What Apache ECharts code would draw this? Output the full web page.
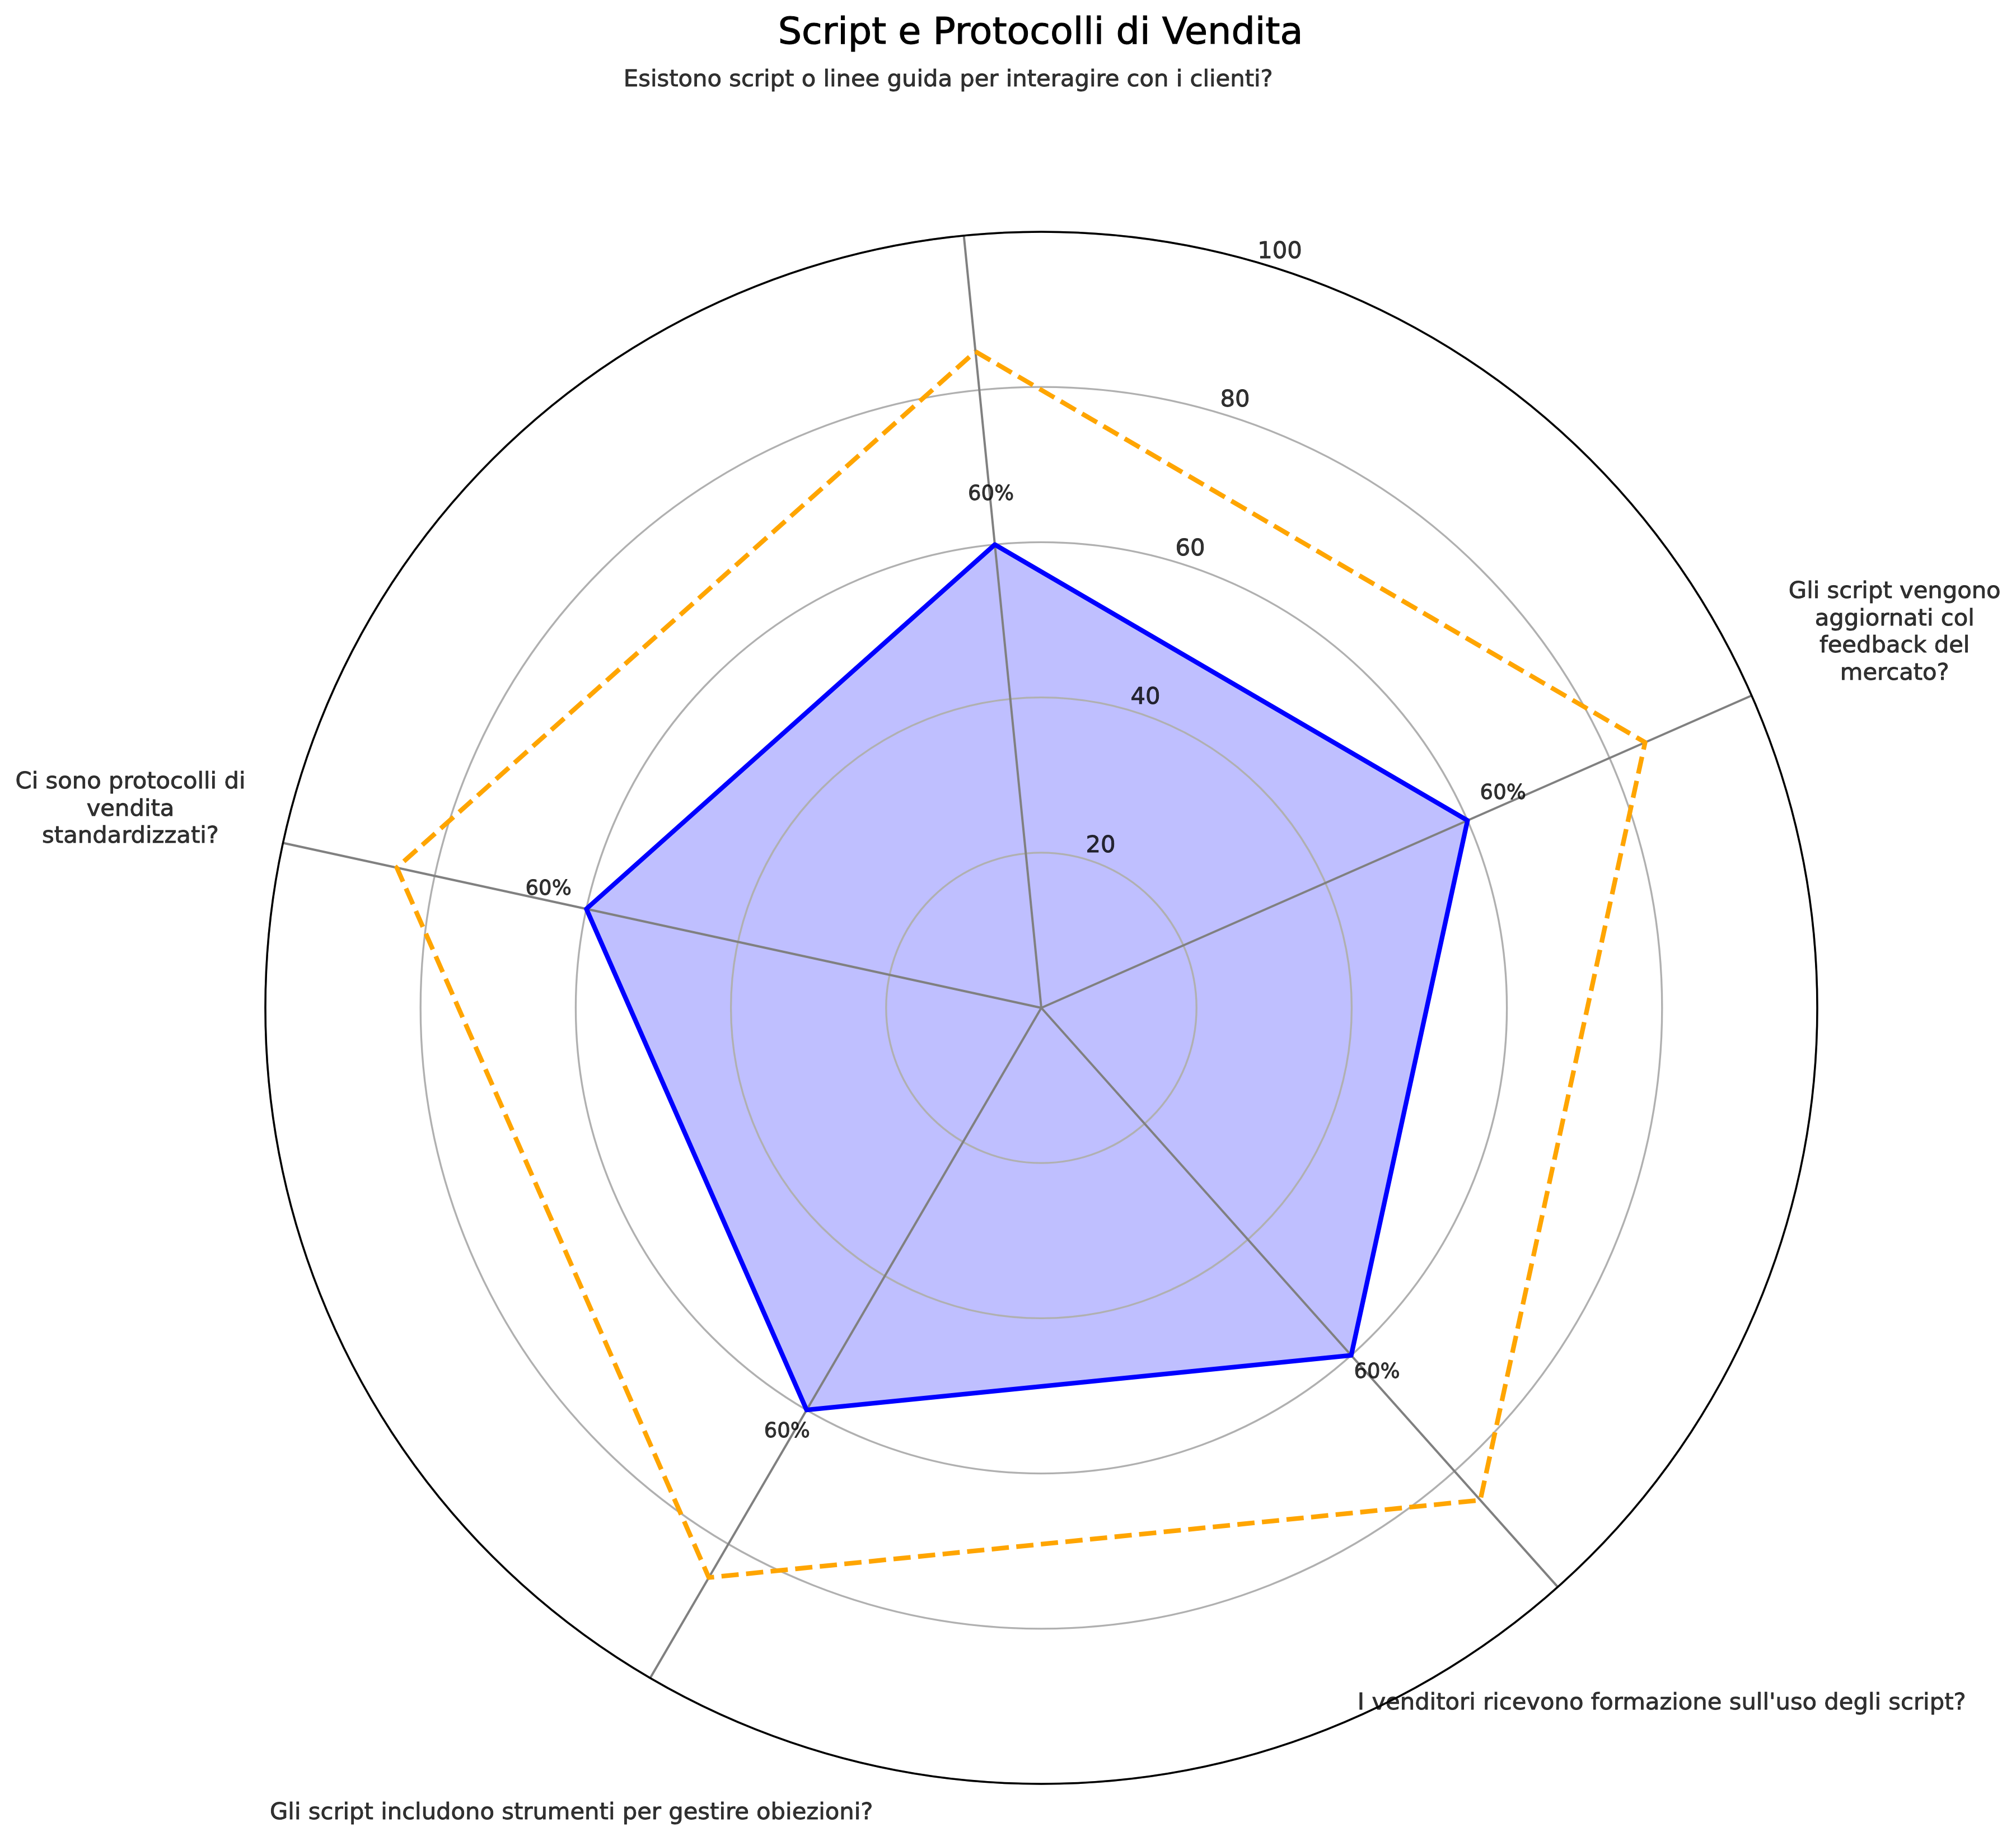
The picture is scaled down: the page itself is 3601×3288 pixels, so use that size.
<!DOCTYPE html>
<html>
<head>
<meta charset="utf-8">
<script src="https://cdn.jsdelivr.net/npm/echarts@6/dist/echarts.min.js"></script>
<style>
html,body{margin:0;padding:0;background:#ffffff;}
#chart{width:3601px;height:3288px;}
</style>
</head>
<body>
<div id="chart"></div>
<script>
// ---- data ----
const chartTitle = 'Script e Protocolli di Vendita';
const categories = [
  'Esistono script o linee guida per interagire con i clienti?',
  'Gli script vengono\naggiornati col\nfeedback del\nmercato?',
  "I venditori ricevono formazione sull'uso degli script?",
  'Gli script includono strumenti per gestire obiezioni?',
  'Ci sono protocolli di\nvendita\nstandardizzati?'
];
const currentValues = [60, 60, 60, 60, 60];
const targetValues = [85, 85, 85, 85, 85];
const radiusTicks = [20, 40, 60, 80, 100];

// ---- layout / style ----
const FONT = 'DejaVu Sans';
const n = categories.length;
const step = 360 / n;
const angleOf = i => i * step;
const closed = vals => vals.map((v, i) => [v, angleOf(i)]).concat([[vals[0], 360]]);
const START = 90 + 0.1 * 180 / Math.PI; // theta offset
const RLABEL_POS = 22.5;
const CENTER = [1860, 1800];

const chart = echarts.init(document.getElementById('chart'), null, {renderer: 'canvas'});

const hiddenAngle = {
  type: 'value', min: 0, max: 360, startAngle: START, clockwise: true,
  axisLine: {show: false}, axisTick: {show: false}, axisLabel: {show: false}, splitLine: {show: false}
};
const hiddenRadius = {
  type: 'value', min: 0, max: 100,
  axisLine: {show: false}, axisTick: {show: false}, axisLabel: {show: false}, splitLine: {show: false}
};

const labelBase = {
  show: true, position: 'inside', color: '#000000', fontFamily: FONT,
  textBorderColor: '#000000', textBorderWidth: 0.9, textShadowBlur: 0
};

const option = {
  backgroundColor: '#ffffff',
  animation: false,
  title: {
    text: chartTitle,
    left: 1858.5,
    top: 60.2,
    padding: 0,
    textAlign: 'center',
    textVerticalAlign: 'middle',
    textStyle: {fontFamily: FONT, fontSize: 66.7, fontWeight: 'normal', color: '#000000', lineHeight: 67,
      textBorderColor: '#000000', textBorderWidth: 1.1}
  },
  polar: [
    {center: CENTER, radius: 1386},
    {center: CENTER, radius: 1665}
  ],
  angleAxis: [
    {
      polarIndex: 0, type: 'value', min: 0, max: 360, interval: step,
      startAngle: START, clockwise: true, z: 1,
      axisLine: {show: true, lineStyle: {color: '#000000', width: 3.5}},
      axisTick: {show: false}, axisLabel: {show: false},
      splitLine: {show: true, lineStyle: {color: '#808080', width: 4}}
    },
    Object.assign({polarIndex: 1}, hiddenAngle)
  ],
  radiusAxis: [
    {
      polarIndex: 0, type: 'value', min: 0, max: 100, interval: 20, z: 0,
      axisLine: {show: false}, axisTick: {show: false}, axisLabel: {show: false},
      splitLine: {show: true, lineStyle: {color: '#b0b0b0', width: 3.33}}
    },
    Object.assign({polarIndex: 1}, hiddenRadius)
  ],
  series: [
    {
      name: 'fill', type: 'line', coordinateSystem: 'polar', polarIndex: 0,
      data: closed(currentValues), symbol: 'none', showSymbol: false, silent: true, z: -1,
      lineStyle: {width: 0, opacity: 0},
      areaStyle: {color: 'rgba(0,0,255,0.25)', opacity: 1}
    },
    {
      name: 'Attuale', type: 'line', coordinateSystem: 'polar', polarIndex: 0,
      data: closed(currentValues), symbol: 'none', showSymbol: false, silent: true, z: 2,
      lineStyle: {color: '#0000ff', width: 8.33, join: 'round', cap: 'round'}
    },
    {
      name: 'Obiettivo', type: 'line', coordinateSystem: 'polar', polarIndex: 0,
      data: closed(targetValues), symbol: 'none', showSymbol: false, silent: true, z: 2,
      lineStyle: {color: '#ffa500', width: 8.33, type: [30.8, 13.3], cap: 'butt', join: 'round'}
    },
    {
      name: 'valueLabels', type: 'scatter', coordinateSystem: 'polar', polarIndex: 0,
      data: currentValues.map((v, i) => [v + 5, angleOf(i)]),
      symbolSize: 1, itemStyle: {color: 'rgba(0,0,0,0)'}, silent: true, clip: false, z: 3,
      label: Object.assign({}, labelBase, {
        fontSize: 37, offset: [0, -20.5],
        formatter: p => currentValues[p.dataIndex] + '%'
      })
    },
    {
      name: 'radiusLabels', type: 'scatter', coordinateSystem: 'polar', polarIndex: 0,
      data: radiusTicks.map(t => [t, RLABEL_POS]),
      symbolSize: 1, itemStyle: {color: 'rgba(0,0,0,0)'}, silent: true, clip: false, z: 3,
      label: Object.assign({}, labelBase, {
        fontSize: 41.7, offset: [26, -23],
        formatter: p => String(radiusTicks[p.dataIndex])
      })
    },
    {
      name: 'categoryLabels', type: 'scatter', coordinateSystem: 'polar', polarIndex: 1,
      data: categories.map((c, i) => [100, angleOf(i)]),
      symbolSize: 1, itemStyle: {color: 'rgba(0,0,0,0)'}, silent: true, clip: false, z: 3,
      label: Object.assign({}, labelBase, {
        fontSize: 41.7, lineHeight: 48.5, align: 'center',
        formatter: p => categories[p.dataIndex]
      })
    }
  ]
};
chart.setOption(option);
</script>
</body>
</html>
